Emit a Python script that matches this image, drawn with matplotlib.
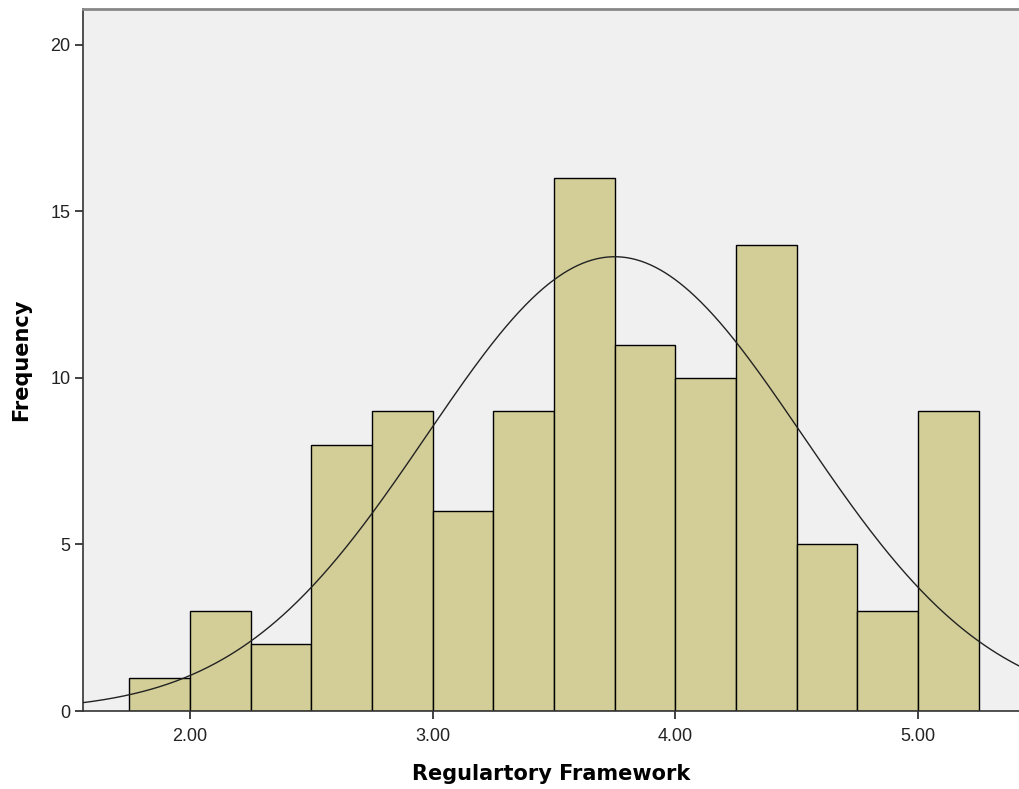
import numpy as np
import matplotlib
matplotlib.use("Agg")
import matplotlib.pyplot as plt

# Data
bin_edges = [1.75, 2.00, 2.25, 2.50, 2.75, 3.00, 3.25, 3.50, 3.75, 4.00, 4.25, 4.50, 4.75, 5.00, 5.25]
frequencies = [1, 3, 2, 8, 9, 6, 9, 16, 11, 10, 14, 5, 3, 9]
curve_mean = 3.75
curve_sd = 0.775
x_ticks = [2.0, 3.0, 4.0, 5.0]
x_tick_labels = ["2.00", "3.00", "4.00", "5.00"]
y_ticks = [0, 5, 10, 15, 20]
x_label = "Regulartory Framework"
y_label = "Frequency"

plt.rcParams['font.family'] = ['Liberation Sans', 'DejaVu Sans']

fig = plt.figure(figsize=(10.19, 7.89), dpi=100)
ax = fig.add_axes([83/1019, 1 - 711/789, 1 - 83/1019, (711 - 9)/789])
ax.set_facecolor("#F0F0F0")

edges = np.array(bin_edges)
widths = np.diff(edges)
ax.bar(edges[:-1], frequencies, width=widths, align="edge",
       color="#D3CE98", edgecolor="black", linewidth=1.0, zorder=2)

n = sum(frequencies)
bw = widths[0]
xs = np.linspace(1.5, 5.5, 600)
ys = n * bw / (curve_sd * np.sqrt(2 * np.pi)) * np.exp(-0.5 * ((xs - curve_mean) / curve_sd) ** 2)
ax.plot(xs, ys, color="#222222", linewidth=1.0, zorder=3)

ax.set_xlim(1.559, 5.416)
ax.set_ylim(0, 21.08)
ax.set_xticks(x_ticks)
ax.set_xticklabels(x_tick_labels)
ax.set_yticks(y_ticks)
ax.tick_params(axis="both", direction="out", length=6, width=1.2, labelsize=13, colors="#222222")
ax.tick_params(axis="x", pad=6)
ax.tick_params(axis="y", pad=3)

for side in ["left", "bottom"]:
    ax.spines[side].set_color("#333333")
    ax.spines[side].set_linewidth(1.2)
ax.spines["top"].set_color("#888888")
ax.spines["top"].set_linewidth(2.0)
ax.spines["right"].set_visible(False)

ax.set_xlabel(x_label, fontsize=15, fontweight="bold", labelpad=14, family="DejaVu Sans")
ax.set_ylabel(y_label, fontsize=15, fontweight="bold", labelpad=14, family="DejaVu Sans")

fig.savefig("out.png", dpi=100)
